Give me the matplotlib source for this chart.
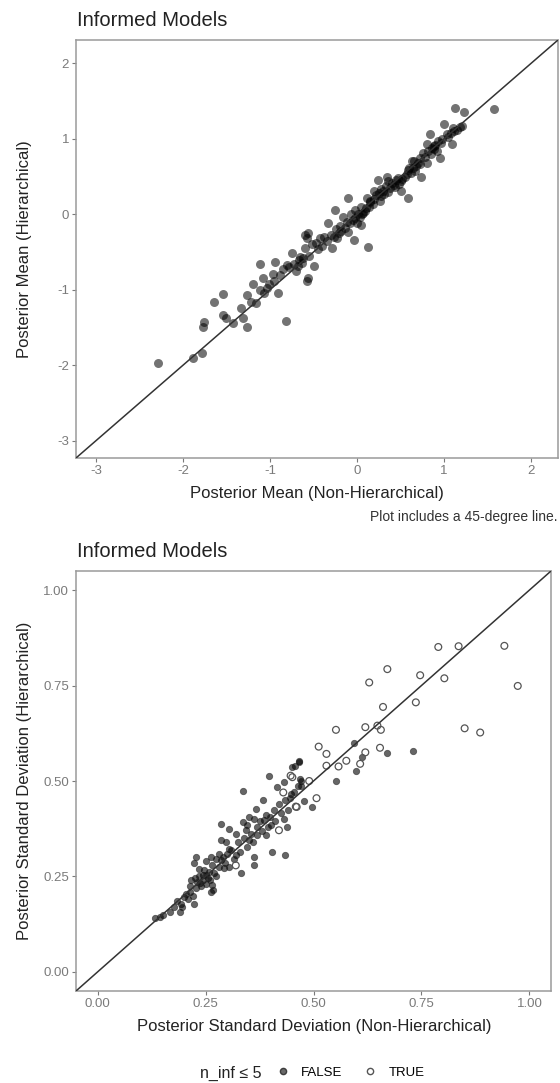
import matplotlib
matplotlib.use("Agg")
import matplotlib.pyplot as plt
from matplotlib.lines import Line2D
from matplotlib.ticker import FormatStrFormatter
import numpy as np

plt.rcParams['font.family'] = ['Liberation Sans', 'DejaVu Sans']
plt.rcParams['axes.unicode_minus'] = False

# Top panel: posterior means (non-hierarchical x, hierarchical y)
mean_x = [-2.29, -1.89, -1.78, -1.77, -1.76, -1.64, -1.54, -1.54, -1.51, -1.43,
          -1.33, -1.31, -1.26, -1.27, -1.19, -1.16, -1.11, -1.08, -1.07, -1.01,
          -0.97, -0.94, -0.91, -0.82, -0.81, -0.75, -0.67, -0.58, -0.60, -0.58,
          -0.56, -0.56, -1.22, -1.12, -1.04, -0.95, -0.88, -0.85, -0.78, -0.72,
          -0.70, -0.66, -0.63, -0.52, -0.50, -0.43, -0.33, -0.29,
          1.57, 1.13, 1.23, 1.21, 1.15, 1.00, 1.03, 0.84, 0.80, 0.93,
          1.09, 0.95, 0.76, 0.80, 0.63, 0.59, 0.67, 0.74, 0.47, 0.34,
          0.24, 0.42, 0.51, 0.59, 0.30, 0.19, 0.15, 0.26, -0.10, -0.02,
          0.09, -0.25, -0.16, 0.00, 0.05, -0.20, -0.10, -0.04, 0.13, -0.60,
          -0.23,
          1.18, 1.12, 1.08, 1.05, 0.98, 0.96, 0.90, 0.88, 0.86, 0.85,
          0.82, 0.78, 0.72, 0.70, 0.68, 0.64, 0.62, 0.57, 0.55, 0.52,
          0.50, 0.48, 0.45, 0.44, 0.40, 0.38, 0.36, 0.33, 0.31, 0.28,
          0.27, 0.22, 0.20, 0.18, 0.14, 0.12, 0.10, 0.07, 0.05, 0.03,
          0.01, -0.02, -0.05, -0.07, -0.08, -0.12, -0.14, -0.18, -0.21, -0.24,
          -0.27, -0.30, -0.35, -0.38, -0.40, -0.45, -0.47, -0.55, -0.62, -0.68,
          0.36, 0.60, 0.92, 1.10, 0.25, 0.15, 0.66, 0.72, 0.88, 0.06]
mean_y = [-1.97, -1.91, -1.84, -1.50, -1.43, -1.16, -1.06, -1.33, -1.38, -1.44,
          -1.24, -1.38, -1.50, -1.07, -0.93, -1.18, -0.66, -0.85, -1.04, -0.93,
          -0.79, -0.63, -1.04, -1.42, -0.67, -0.51, -0.60, -0.88, -0.45, -0.31,
          -0.25, -0.85, -1.16, -1.00, -0.98, -0.88, -0.80, -0.72, -0.70, -0.66,
          -0.75, -0.56, -0.64, -0.40, -0.69, -0.31, -0.12, -0.45,
          1.39, 1.41, 1.36, 1.17, 1.12, 1.20, 1.07, 1.06, 0.93, 0.97,
          0.93, 0.75, 0.81, 0.68, 0.70, 0.59, 0.57, 0.50, 0.48, 0.50,
          0.45, 0.39, 0.31, 0.22, 0.31, 0.31, 0.17, 0.17, 0.22, 0.06,
          0.04, 0.06, -0.03, -0.12, -0.14, -0.16, -0.23, -0.34, -0.44, -0.27,
          -0.31,
          1.16, 1.10, 1.08, 1.02, 1.00, 0.94, 0.92, 0.86, 0.88, 0.80,
          0.84, 0.76, 0.74, 0.68, 0.64, 0.62, 0.55, 0.53, 0.50, 0.47,
          0.44, 0.40, 0.45, 0.36, 0.42, 0.35, 0.30, 0.38, 0.27, 0.24,
          0.33, 0.25, 0.20, 0.13, 0.10, 0.22, 0.08, 0.02, 0.10, -0.04,
          0.00, -0.05, -0.08, 0.01, -0.12, -0.10, -0.18, -0.22, -0.25, -0.20,
          -0.30, -0.28, -0.36, -0.30, -0.42, -0.46, -0.38, -0.55, -0.58, -0.68,
          0.44, 0.62, 0.84, 1.14, 0.28, 0.16, 0.70, 0.66, 0.90, 0.00]

# Bottom panel: posterior SDs, split by n_inf <= 5
sd_true_x = [0.789, 0.836, 0.942, 0.973, 0.671, 0.629, 0.747, 0.803, 0.737, 0.661,
             0.850, 0.886, 0.552, 0.620, 0.656, 0.648, 0.512, 0.530, 0.654, 0.620,
             0.576, 0.530, 0.558, 0.608, 0.507, 0.461, 0.451, 0.320, 0.420, 0.459,
             0.447, 0.430, 0.490]
sd_true_y = [0.851, 0.853, 0.854, 0.749, 0.793, 0.758, 0.777, 0.769, 0.706, 0.694,
             0.638, 0.627, 0.634, 0.641, 0.634, 0.645, 0.590, 0.571, 0.587, 0.575,
             0.553, 0.540, 0.538, 0.545, 0.455, 0.432, 0.510, 0.279, 0.371, 0.433,
             0.514, 0.470, 0.500]
sd_false_x = [0.730, 0.670, 0.594, 0.612, 0.598, 0.551, 0.466, 0.456, 0.468, 0.464,
              0.479, 0.497, 0.132, 0.151, 0.167, 0.190, 0.192, 0.201, 0.223, 0.213,
              0.228, 0.236, 0.217, 0.243, 0.255, 0.247, 0.266, 0.263, 0.224, 0.228,
              0.263, 0.274, 0.286, 0.293, 0.305, 0.286, 0.297, 0.286, 0.305, 0.320,
              0.305, 0.320, 0.332, 0.336, 0.343, 0.347, 0.351, 0.362, 0.362, 0.362,
              0.370, 0.385, 0.389, 0.401, 0.366, 0.382, 0.336, 0.405, 0.435, 0.409,
              0.432, 0.435, 0.447, 0.416, 0.432, 0.397, 0.470, 0.470, 0.451, 0.466,
              0.351, 0.267,
              0.205, 0.215, 0.220, 0.225, 0.230, 0.235, 0.240, 0.245, 0.250, 0.252,
              0.258, 0.260, 0.265, 0.270, 0.275, 0.280, 0.282, 0.290, 0.295, 0.300,
              0.310, 0.315, 0.325, 0.330, 0.340, 0.345, 0.355, 0.360, 0.370, 0.375,
              0.380, 0.390, 0.395, 0.400, 0.410, 0.420, 0.425, 0.440, 0.445, 0.455,
              0.185, 0.195, 0.210, 0.235, 0.250, 0.438, 0.176, 0.145]
sd_false_y = [0.578, 0.573, 0.599, 0.564, 0.527, 0.501, 0.552, 0.538, 0.506, 0.486,
              0.447, 0.433, 0.140, 0.149, 0.157, 0.157, 0.179, 0.197, 0.179, 0.210,
              0.219, 0.232, 0.240, 0.253, 0.245, 0.266, 0.227, 0.210, 0.284, 0.301,
              0.301, 0.297, 0.292, 0.271, 0.275, 0.345, 0.340, 0.388, 0.375, 0.362,
              0.323, 0.305, 0.258, 0.392, 0.371, 0.327, 0.345, 0.301, 0.279, 0.401,
              0.358, 0.397, 0.358, 0.384, 0.427, 0.451, 0.475, 0.314, 0.305, 0.423,
              0.401, 0.451, 0.467, 0.484, 0.497, 0.512, 0.501, 0.488, 0.536, 0.549,
              0.405, 0.214,
              0.205, 0.225, 0.200, 0.245, 0.235, 0.250, 0.225, 0.240, 0.255, 0.230,
              0.262, 0.240, 0.280, 0.260, 0.250, 0.275, 0.310, 0.300, 0.285, 0.310,
              0.320, 0.295, 0.340, 0.315, 0.350, 0.385, 0.360, 0.340, 0.380, 0.395,
              0.370, 0.410, 0.380, 0.405, 0.395, 0.440, 0.415, 0.425, 0.455, 0.470,
              0.185, 0.170, 0.190, 0.270, 0.290, 0.379, 0.170, 0.145]

mean_lim = (-3.23, 2.31)
mean_ticks = [-3, -2, -1, 0, 1, 2]
sd_lim = (-0.05, 1.05)
sd_ticks = [0.00, 0.25, 0.50, 0.75, 1.00]

W, H = 560, 1083
fig = plt.figure(figsize=(W / 100, H / 100), dpi=100)

def fx(px):
    return px / W

def fy(py):
    return 1 - py / H

spine_col = '#9a9a9a'
tick_col = '#7a7a7a'


def style(ax):
    for s in ax.spines.values():
        s.set_color(spine_col)
        s.set_linewidth(1.1)
    ax.tick_params(direction='out', length=3, width=0.8, color=tick_col,
                   labelcolor=tick_col, labelsize=9.5, pad=2)
    ax.axline((0, 0), slope=1, color='#333333', linewidth=1.1, zorder=3)


# top panel
ax1 = fig.add_axes([fx(76), fy(458), fx(558) - fx(76), fy(40) - fy(458)])
ax1.scatter(mean_x, mean_y, s=42, color='black', alpha=0.55, linewidths=0, zorder=2)
ax1.set_xlim(mean_lim)
ax1.set_ylim(mean_lim)
ax1.set_xticks(mean_ticks)
ax1.set_yticks(mean_ticks)
style(ax1)
fig.text(fx(77), fy(26), 'Informed Models', fontsize=14.5, color='#222222', va='baseline')
fig.text(fx(317), fy(498), 'Posterior Mean (Non-Hierarchical)', fontsize=12,
         ha='center', va='baseline', color='#222222')
fig.text(fx(25), fy(249), 'Posterior Mean (Hierarchical)', fontsize=12, rotation=90,
         ha='center', va='center', color='#222222')
fig.text(fx(558), fy(521), 'Plot includes a 45-degree line.', fontsize=10,
         ha='right', va='baseline', color='#333333')

# bottom panel
ax2 = fig.add_axes([fx(76), fy(991), fx(551) - fx(76), fy(571) - fy(991)])
ax2.scatter(sd_false_x, sd_false_y, s=21, color='black', alpha=0.6,
            edgecolors='#222222', linewidths=0.6, zorder=2)
ax2.scatter(sd_true_x, sd_true_y, s=24, facecolors='none',
            edgecolors='#555555', linewidths=0.9, zorder=2)
ax2.set_xlim(sd_lim)
ax2.set_ylim(sd_lim)
ax2.set_xticks(sd_ticks)
ax2.set_yticks(sd_ticks)
ax2.xaxis.set_major_formatter(FormatStrFormatter('%.2f'))
ax2.yaxis.set_major_formatter(FormatStrFormatter('%.2f'))
style(ax2)
fig.text(fx(77), fy(557), 'Informed Models', fontsize=14.5, color='#222222', va='baseline')
fig.text(fx(314), fy(1031), 'Posterior Standard Deviation (Non-Hierarchical)', fontsize=12,
         ha='center', va='baseline', color='#222222')
fig.text(fx(25), fy(781), 'Posterior Standard Deviation (Hierarchical)', fontsize=12,
         rotation=90, ha='center', va='center', color='#222222')

# legend
fig.text(fx(200), fy(1073), 'n_inf \u2264 5', fontsize=11.5, ha='left', va='center',
         color='#222222')
handles = [Line2D([], [], linestyle='none', marker='o', markersize=4.5,
                  markerfacecolor='#444444', markeredgecolor='#222222', alpha=0.8),
           Line2D([], [], linestyle='none', marker='o', markersize=4.5,
                  markerfacecolor='none', markeredgecolor='#555555')]
fig.legend(handles, ['FALSE', 'TRUE'], ncol=2, frameon=False, fontsize=9.5,
           loc='center left', bbox_to_anchor=(fx(276), fy(1073)),
           handlelength=1.0, handletextpad=0.9, columnspacing=1.6,
           borderaxespad=0, borderpad=0)

fig.savefig('out.png', dpi=100)
